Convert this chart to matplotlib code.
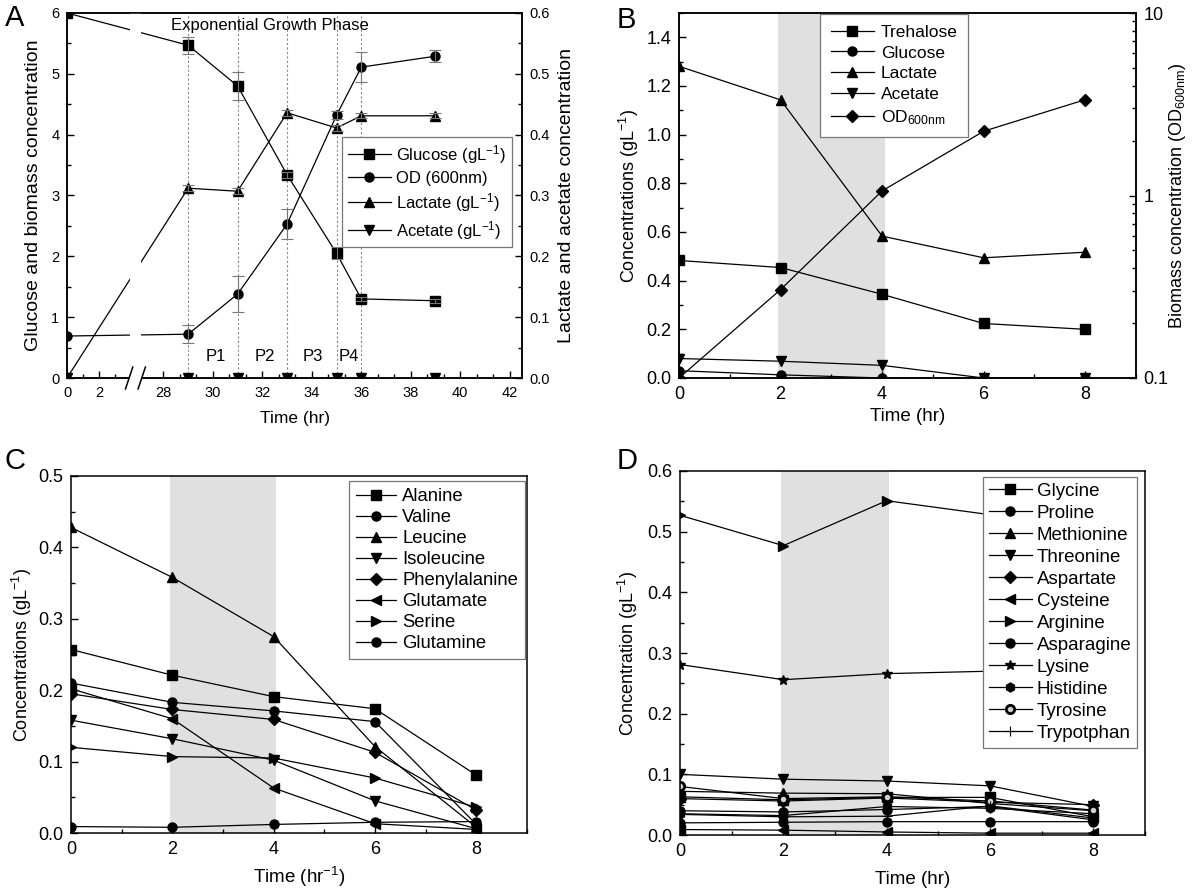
import numpy as np
import matplotlib
matplotlib.use("Agg")
import matplotlib.pyplot as plt
from matplotlib.ticker import FixedLocator, MultipleLocator, LogLocator, NullFormatter

plt.rcParams['font.family'] = ['Liberation Sans', 'DejaVu Sans']
plt.rcParams['mathtext.fontset'] = 'custom'
plt.rcParams['mathtext.rm'] = 'Liberation Sans'
plt.rcParams['mathtext.it'] = 'Liberation Sans'
plt.rcParams['mathtext.default'] = 'regular'

# ---- panel A data ----
a_time = [0, 29, 31, 33, 35, 36, 39]
a_glucose = [6.0, 5.47, 4.80, 3.34, 2.05, 1.30, 1.27]
a_glucose_err = [0, 0.14, 0.23, 0.05, 0.10, 0.03, 0.03]
a_od = [0.69, 0.72, 1.38, 2.53, 4.32, 5.11, 5.29]
a_od_err = [0, 0.15, 0.29, 0.25, 0.07, 0.25, 0.10]
a_lactate = [0.0, 0.312, 0.307, 0.436, 0.411, 0.431, 0.431]
a_lactate_err = [0, 0.005, 0.005, 0.005, 0.005, 0.004, 0.004]
a_acetate = [0, 0, 0, 0, 0, 0, 0]
a_phase_lines = [29, 31, 33, 35, 36]
a_phase_labels = ['P1', 'P2', 'P3', 'P4']
a_phase_x = [30.1, 32.1, 34.05, 35.5]

# ---- panel B data ----
b_time = [0, 2, 4, 6, 8]
b_trehalose = [0.483, 0.454, 0.344, 0.224, 0.200]
b_glucose = [0.030, 0.013, 0.0, 0.0, 0.0]
b_lactate = [1.281, 1.143, 0.583, 0.494, 0.517]
b_acetate = [0.080, 0.069, 0.052, 0.0, 0.0]
b_od = [0.100, 0.305, 1.06, 2.25, 3.35]

# ---- panel C data ----
c_time = [0, 2, 4, 6, 8]
c_names = ['Alanine', 'Valine', 'Leucine', 'Isoleucine', 'Phenylalanine',
           'Glutamate', 'Serine', 'Glutamine']
c_alanine = [0.257, 0.221, 0.191, 0.174, 0.081]
c_valine = [0.210, 0.183, 0.171, 0.156, 0.012]
c_leucine = [0.428, 0.358, 0.275, 0.121, 0.008]
c_isoleucine = [0.158, 0.132, 0.102, 0.045, 0.006]
c_phenylalanine = [0.195, 0.173, 0.159, 0.113, 0.032]
c_glutamate = [0.202, 0.160, 0.063, 0.013, 0.005]
c_serine = [0.120, 0.107, 0.105, 0.077, 0.036]
c_glutamine = [0.009, 0.008, 0.012, 0.015, 0.016]

# ---- panel D data ----
d_time = [0, 2, 4, 6, 8]
d_names = ['Glycine', 'Proline', 'Methionine', 'Threonine', 'Aspartate', 'Cysteine',
           'Arginine', 'Asparagine', 'Lysine', 'Histidine', 'Tyrosine', 'Trypotphan']
d_glycine = [0.063, 0.058, 0.062, 0.062, 0.030]
d_proline = [0.020, 0.021, 0.022, 0.022, 0.022]
d_methionine = [0.072, 0.069, 0.068, 0.052, 0.040]
d_threonine = [0.100, 0.092, 0.089, 0.081, 0.047]
d_aspartate = [0.060, 0.056, 0.061, 0.054, 0.050]
d_cysteine = [0.009, 0.008, 0.005, 0.003, 0.003]
d_arginine = [0.527, 0.477, 0.551, 0.528, 0.520]
d_asparagine = [0.040, 0.038, 0.042, 0.047, 0.025]
d_lysine = [0.281, 0.256, 0.266, 0.270, 0.270]
d_histidine = [0.035, 0.032, 0.047, 0.044, 0.035]
d_tyrosine = [0.080, 0.060, 0.063, 0.056, 0.041]
d_tryptophan = [0.034, 0.030, 0.031, 0.048, 0.028]

W, H = 1200, 891
fig = plt.figure(figsize=(W / 100, H / 100), dpi=100)


def box(l, r, t, b):
    return [l / W, (H - b) / H, (r - l) / W, (b - t) / H]


MS = 6.5
SHADE = '#e0e0e0'


def style(ax, size, right=False):
    ax.tick_params(which='both', direction='in', labelsize=size, width=1,
                   top=False, right=right)
    ax.tick_params(axis='x', which='major', pad=6)
    ax.tick_params(axis='y', which='major', pad=5.5)
    ax.tick_params(which='major', length=5)
    ax.tick_params(which='minor', length=3)
    for s in ax.spines.values():
        s.set_linewidth(1.1)


def legend(ax, handles, labels, x, y, size, spacing, hl, tp, bp):
    lg = ax.legend(handles, labels, loc='upper right', bbox_to_anchor=(x, y),
                   fontsize=size, frameon=True, fancybox=False, framealpha=1,
                   edgecolor='#777777', handlelength=hl, handletextpad=tp,
                   labelspacing=spacing, borderpad=bp, numpoints=1,
                   borderaxespad=0)
    lg.get_frame().set_linewidth(0.9)
    return lg


line_kw = dict(color='black', lw=0.9, ms=MS, mfc='black', mec='black')

# ================= Panel A (broken x axis) =================
brk_a, brk_b = 4.0, 27.05
px_left, px_right = 16.0, 24.75
gap = 9.0
xk = np.array([-1000.0, brk_a, brk_b, 1000.0])
yk = np.array([-1000.0 * px_left, brk_a * px_left, brk_a * px_left + gap,
               brk_a * px_left + gap + (1000.0 - brk_b) * px_right])


def fwd(x):
    return np.interp(x, xk, yk)


def inv(y):
    return np.interp(y, yk, xk)


axA = fig.add_axes(box(67, 522, 13, 378))
axA.set_xscale('function', functions=(fwd, inv))
axA.set_xlim(0, 42.5)
axA.set_ylim(0, 6)
axA2 = axA.twinx()
axA2.set_ylim(0, 0.6)

for xv in a_phase_lines:
    axA.plot([xv, xv], [0, 6], ls=(0, (2, 2)), color='#888888', lw=0.8, zorder=1)

hA1, = axA.plot(a_time, a_glucose, marker='s', **line_kw)
axA.errorbar(a_time[1:], a_glucose[1:], yerr=a_glucose_err[1:], fmt='none',
             ecolor='#777777', elinewidth=0.8, capsize=4, capthick=0.8)
hA2, = axA.plot(a_time, a_od, marker='o', **line_kw)
axA.errorbar(a_time[1:], a_od[1:], yerr=a_od_err[1:], fmt='none',
             ecolor='#777777', elinewidth=0.8, capsize=4, capthick=0.8)
hA3, = axA2.plot(a_time, a_lactate, marker='^', **line_kw)
axA2.errorbar(a_time[1:], a_lactate[1:], yerr=a_lactate_err[1:], fmt='none',
              ecolor='#777777', elinewidth=0.8, capsize=4, capthick=0.8)
hA4, = axA2.plot(a_time, a_acetate, marker='v', **line_kw)

# white gap where the axis is broken
for ax in (axA, axA2):
    ax.axvspan(brk_a - 0.05, brk_b + 0.05, color='white', zorder=2.4, lw=0)
axA2.axvspan(brk_a - 0.05, brk_b + 0.05, ymin=-0.03, ymax=0.02, color='white',
             zorder=3, lw=0, clip_on=False)
xa = axA.transAxes.inverted().transform(axA.transData.transform((brk_a, 0)))[0]
xb = axA.transAxes.inverted().transform(axA.transData.transform((brk_b, 0)))[0]
for xc in (xa - 0.004, xb + 0.004):
    axA2.plot([xc - 0.008, xc + 0.008], [-0.03, 0.03], color='black', lw=1.1,
              transform=axA2.transAxes, clip_on=False, zorder=4)

axA.xaxis.set_major_locator(FixedLocator([0, 2] + list(range(28, 43, 2))))
axA.xaxis.set_minor_locator(FixedLocator([1, 3] + list(np.arange(28, 42.5, 2 / 3))))
axA.xaxis.set_minor_formatter(NullFormatter())
axA.yaxis.set_major_locator(MultipleLocator(1))
axA.yaxis.set_minor_locator(MultipleLocator(0.5))
axA2.yaxis.set_major_locator(MultipleLocator(0.1))
axA2.yaxis.set_minor_locator(MultipleLocator(0.05))
axA2.yaxis.set_major_formatter(plt.FormatStrFormatter('%.1f'))
style(axA, 10.5)
style(axA2, 10.5, right=True)
axA2.tick_params(which='both', left=False)

axA.text(32.3, 5.79, 'Exponential Growth Phase', ha='center', va='center', fontsize=12)
for lab, xv in zip(a_phase_labels, a_phase_x):
    axA.text(xv, 0.36, lab, ha='center', va='center', fontsize=12)

axA.set_ylabel('Glucose and biomass concentration', fontsize=14)
axA.yaxis.set_label_coords(-0.055, 0.5)
axA2.set_ylabel('Lactate and acetate concentration', fontsize=14)
axA2.yaxis.set_label_coords(1.08, 0.5)
axA.set_xlabel('Time (hr)', fontsize=12.5)
axA.xaxis.set_label_coords(0.5, -0.09)
legend(axA2, [hA1, hA2, hA3, hA4],
       ['Glucose (gL$^{-1}$)', 'OD (600nm)', 'Lactate (gL$^{-1}$)', 'Acetate (gL$^{-1}$)'],
       0.978, 0.66, 12, 0.3, 2.6, 0.3, 0.35)
fig.text(5 / W, 1 - 4 / H, 'A', fontsize=21, va='top', ha='left')

# ================= Panel B =================
TK = 13
axB = fig.add_axes(box(679, 1136, 13, 378))
axB.set_xlim(0, 9)
axB.set_ylim(0, 1.5)
axB.axvspan(1.95, 4.05, color=SHADE, lw=0, zorder=0)
hB1, = axB.plot(b_time, b_trehalose, marker='s', **line_kw)
hB2, = axB.plot(b_time, b_glucose, marker='o', **line_kw)
hB3, = axB.plot(b_time, b_lactate, marker='^', **line_kw)
hB4, = axB.plot(b_time, b_acetate, marker='v', **line_kw)
axB2 = axB.twinx()
axB2.set_yscale('log')
axB2.set_ylim(0.1, 10)
hB5, = axB2.plot(b_time, b_od, marker='D', ms=MS - 0.8, color='black', lw=0.9)
axB.xaxis.set_major_locator(MultipleLocator(2))
axB.xaxis.set_minor_locator(MultipleLocator(1))
axB.yaxis.set_major_locator(MultipleLocator(0.2))
axB.yaxis.set_minor_locator(MultipleLocator(0.1))
axB.yaxis.set_major_formatter(plt.FormatStrFormatter('%.1f'))
axB2.yaxis.set_major_locator(LogLocator(base=10))
axB2.yaxis.set_minor_locator(LogLocator(base=10, subs=np.arange(2, 10)))
axB2.yaxis.set_minor_formatter(NullFormatter())
axB2.yaxis.set_major_formatter(plt.FuncFormatter(lambda v, p: '%g' % v))
style(axB, TK)
style(axB2, TK, right=True)
axB2.tick_params(which='both', left=False)
axB.set_ylabel('Concentrations (gL$^{-1}$)', fontsize=13)
axB.yaxis.set_label_coords(-0.083, 0.5)
axB2.set_ylabel('Biomass concentration (OD$_{600nm}$)', fontsize=13)
axB2.yaxis.set_label_coords(1.068, 0.5)
axB.set_xlabel('Time (hr)', fontsize=13.5)
axB.xaxis.set_label_coords(0.5, -0.082)
legend(axB2, [hB1, hB2, hB3, hB4, hB5],
       ['Trehalose', 'Glucose', 'Lactate', 'Acetate', 'OD$_{600nm}$'],
       0.633, 0.997, 12.5, 0.33, 2.5, 0.4, 0.6)
fig.text(617 / W, 1 - 6 / H, 'B', fontsize=21, va='top', ha='left')

# ================= Panel C =================
axC = fig.add_axes(box(71, 527, 476, 833))
axC.set_xlim(0, 9)
axC.set_ylim(0, 0.5)
axC.axvspan(1.95, 4.05, color=SHADE, lw=0, zorder=0)
c_series = [c_alanine, c_valine, c_leucine, c_isoleucine, c_phenylalanine,
            c_glutamate, c_serine, c_glutamine]
c_markers = ['s', 'o', '^', 'v', 'D', '<', '>', 'o']
hC = []
for vals, mk in zip(c_series, c_markers):
    ms = MS - 0.8 if mk == 'D' else MS
    h, = axC.plot(c_time, vals, marker=mk, color='black', lw=0.9, ms=ms)
    hC.append(h)
axC.xaxis.set_major_locator(MultipleLocator(2))
axC.xaxis.set_minor_locator(MultipleLocator(1))
axC.yaxis.set_major_locator(MultipleLocator(0.1))
axC.yaxis.set_minor_locator(MultipleLocator(0.05))
axC.yaxis.set_major_formatter(plt.FormatStrFormatter('%.1f'))
style(axC, TK)
axC.set_ylabel('Concentrations (gL$^{-1}$)', fontsize=13)
axC.yaxis.set_label_coords(-0.082, 0.5)
axC.set_xlabel('Time (hr$^{-1}$)', fontsize=13.5)
axC.xaxis.set_label_coords(0.5, -0.09)
legend(axC, hC, c_names, 0.996, 0.986, 13.3, 0.22, 2.2, 0.32, 0.38)
fig.text(5 / W, 1 - 447 / H, 'C', fontsize=21, va='top', ha='left')

# ================= Panel D =================
axD = fig.add_axes(box(680, 1145, 471, 835))
axD.set_xlim(0, 9)
axD.set_ylim(0, 0.6)
axD.axvspan(1.95, 4.05, color=SHADE, lw=0, zorder=0)
d_series = [d_glycine, d_proline, d_methionine, d_threonine, d_aspartate, d_cysteine,
            d_arginine, d_asparagine, d_lysine, d_histidine, d_tyrosine, d_tryptophan]
d_markers = ['s', 'o', '^', 'v', 'D', '<', '>', 'o', '*', 'h', 'o', '+']
hD = []
for name, vals, mk in zip(d_names, d_series, d_markers):
    kw = dict(marker=mk, color='black', lw=0.9, ms=MS)
    if mk == 'D':
        kw['ms'] = MS - 0.8
    if mk == '*':
        kw['ms'] = MS + 1
    if name == 'Tyrosine':
        kw['mfc'] = '#d0d0d0'
        kw['mec'] = 'black'
        kw['mew'] = 2
        kw['ms'] = MS - 0.5
    if mk == '+':
        kw['ms'] = MS + 1
        kw['mew'] = 0.8
    h, = axD.plot(d_time, vals, **kw)
    hD.append(h)
axD.xaxis.set_major_locator(MultipleLocator(2))
axD.xaxis.set_minor_locator(MultipleLocator(1))
axD.yaxis.set_major_locator(MultipleLocator(0.1))
axD.yaxis.set_minor_locator(MultipleLocator(0.05))
axD.yaxis.set_major_formatter(plt.FormatStrFormatter('%.1f'))
style(axD, TK)
axD.set_ylabel('Concentration (gL$^{-1}$)', fontsize=13)
axD.yaxis.set_label_coords(-0.087, 0.5)
axD.set_xlabel('Time (hr)', fontsize=13.5)
axD.xaxis.set_label_coords(0.5, -0.1)
legend(axD, hD, d_names, 0.983, 0.983, 13.5, 0.26, 2.3, 0.27, 0.3)
fig.text(617 / W, 1 - 447 / H, 'D', fontsize=21, va='top', ha='left')

fig.savefig('out.png', dpi=100, facecolor='white')
